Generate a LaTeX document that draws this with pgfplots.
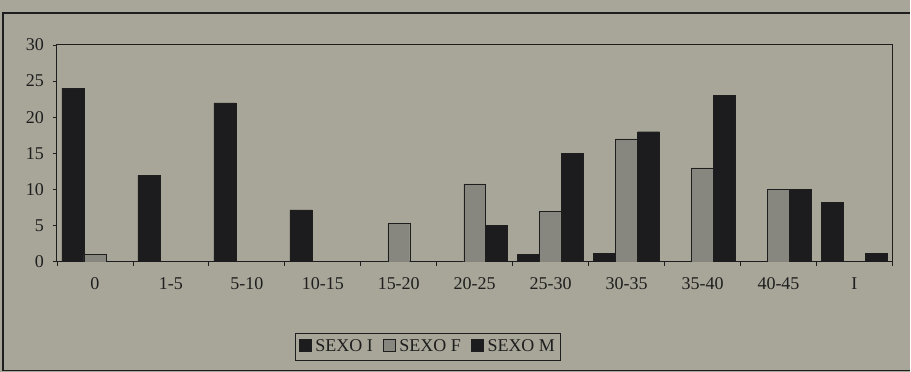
\documentclass[border=0pt]{standalone}
\usepackage{pgfplots}
\pgfplotsset{compat=1.18}
\usepackage{fontspec}
\setmainfont{Liberation Serif}
\definecolor{bgc}{RGB}{168,166,153}
\definecolor{barblack}{RGB}{28,28,30}
\definecolor{bargray}{RGB}{135,134,127}
\definecolor{ink}{RGB}{30,30,30}
\begin{document}
\fontsize{18}{20}\selectfont
\begin{tikzpicture}[x=1pt,y=1pt]
\fill[bgc] (0,0) rectangle (911,372);
\draw[ink,line width=1.2pt] (911,359) -- (3,359) -- (3,1) -- (911,1);
\begin{axis}[
  at={(57pt,110pt)}, anchor=south west,
  scale only axis, width=836pt, height=217pt,
  xmin=-0.5, xmax=10.5, ymin=0, ymax=30,
  ybar=0pt, bar width=22pt,
  axis line style={ink, line width=1pt},
  xtick={0,...,10},
  xticklabels={0,1-5,5-10,10-15,15-20,20-25,25-30,30-35,35-40,40-45,I},
  major x tick style={draw=none},
  minor xtick={-0.5,0.5,...,10.5},
  minor tick length=4pt,
  ytick={0,5,...,30},
  major tick length=4pt,
  tick align=outside,
  tick style={ink, line width=0.8pt},
  xtick pos=bottom, ytick pos=left,
  xticklabel style={yshift=-6pt, font=\fontsize{18}{20}\selectfont, text=ink},
  yticklabel style={xshift=-3pt, font=\fontsize{18}{20}\selectfont, text=ink},
  /pgf/number format/assume math mode=true,
  legend columns=3,
  legend style={at={(0.444,-0.392)}, anchor=center, fill=bgc, draw=ink, line width=0.8pt,
    font=\fontsize{18}{20}\selectfont, text=ink, inner xsep=3pt, inner ysep=4pt,
    /tikz/every odd column/.append style={column sep=2pt},
    /tikz/every even column/.append style={column sep=8pt}},
  legend image code/.code={\draw[#1, line width=0.6pt] (0pt,-4pt) rectangle (12pt,8pt);},
]
\addplot[fill=barblack, draw=ink] coordinates {(0,24) (1,12) (2,22) (3,7.2) (6,1) (7,1.2) (10,8.2)};
\addplot[fill=bargray, draw=ink] coordinates {(0,1) (4,5.3) (5,10.8) (6,7) (7,17) (8,13) (9,10)};
\addplot[fill=barblack, draw=ink] coordinates {(5,5) (6,15) (7,18) (8,23) (9,10) (10,1.2)};
\legend{SEXO I,SEXO F,SEXO M}
\end{axis}
\end{tikzpicture}
\end{document}
